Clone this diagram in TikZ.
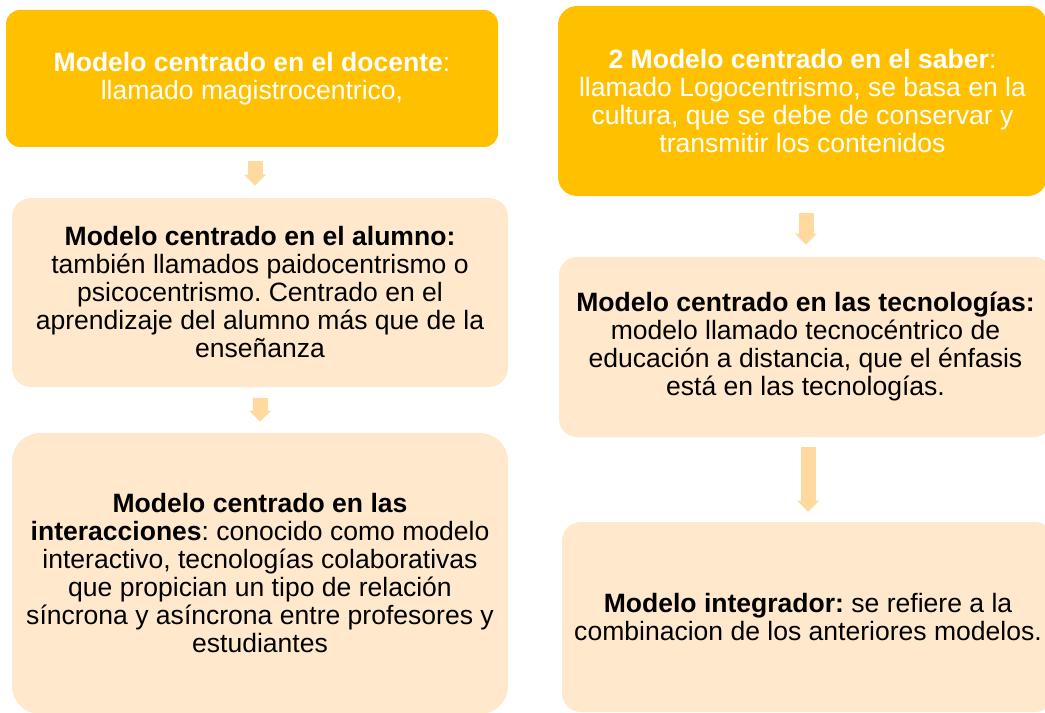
\documentclass[tikz,border=0pt]{standalone}
\usepackage{fontspec}
\setmainfont{Liberation Sans}
\usetikzlibrary{arrows.meta}
\frenchspacing
\definecolor{gold}{HTML}{FFC000}
\definecolor{peach}{HTML}{FFE8CC}
\definecolor{arrowfill}{HTML}{FFD9A0}
\tikzset{
  model/.style={align=center, inner sep=0pt, font=\fontsize{19.9}{21}\selectfont},
  topmodel/.style={model, fill=gold, text=white},
  submodel/.style={model, fill=peach, text=black},
  flow/.style={color=arrowfill, line width=11.25pt,
    -{Triangle[length=8.25pt, width=16.5pt, line width=0pt]}}
}
\begin{document}
\begin{tikzpicture}[x=0.75pt,y=-0.75pt]
      \useasboundingbox (0,0) rectangle (1045,713);
      \clip (0,0) rectangle (1045,713);
      \draw
        (252,78.5) node[topmodel, minimum width=369pt, minimum height=102.75pt, rounded corners=10.5pt] (docente)
          {\textbf{Modelo centrado en el docente}:\\llamado magistrocentrico,}
        (260,292.5) node[submodel, minimum width=372pt, minimum height=141.75pt, rounded corners=14.25pt] (alumno)
          {\textbf{Modelo centrado en el alumno:}\\también llamados paidocentrismo o\\psicocentrismo. Centrado en el\\aprendizaje del alumno más que de la\\enseñanza}
        (260,573.5) node[submodel, minimum width=372pt, minimum height=210.75pt, rounded corners=21pt] (interacciones)
          {\textbf{Modelo centrado en las}\\\textbf{interacciones}: conocido como modelo\\interactivo, tecnologías colaborativas\\que propician un tipo de relación\\síncrona y asíncrona entre profesores y\\estudiantes}
        (802.5,101) node[topmodel, minimum width=366.75pt, minimum height=142.5pt, rounded corners=14.25pt] (saber)
          {\textbf{2 Modelo centrado en el saber}:\\llamado Logocentrismo, se basa en la\\cultura, que se debe de conservar y\\transmitir los contenidos}
        (805.5,347) node[submodel, minimum width=369.75pt, minimum height=135pt, rounded corners=13.5pt] (tecnologias)
          {\textbf{Modelo centrado en las tecnologías:}\\modelo llamado tecnocéntrico de\\educación a distancia, que el énfasis\\está en las tecnologías.}
        (808,617) node[submodel, minimum width=369pt, minimum height=142.5pt, rounded corners=14.25pt] (integrador)
          {\textbf{Modelo integrador:} se refiere a la\\combinacion de los anteriores modelos.};
      \begin{scope}[flow]
        \draw ([xshift=2.25pt,yshift=-10.5pt]docente.south) to ([xshift=-3.75pt,yshift=9pt]alumno.north);
        \draw ([yshift=-8.25pt]alumno.south) to ([yshift=8.25pt]interacciones.north);
        \draw ([xshift=2.625pt,yshift=-12.75pt]saber.south) to ([xshift=0.375pt,yshift=9pt]tecnologias.north);
        \draw ([xshift=1.875pt,yshift=-7.5pt]tecnologias.south) to ([yshift=7.5pt]integrador.north);
      \end{scope}
    \end{tikzpicture}
\end{document}
